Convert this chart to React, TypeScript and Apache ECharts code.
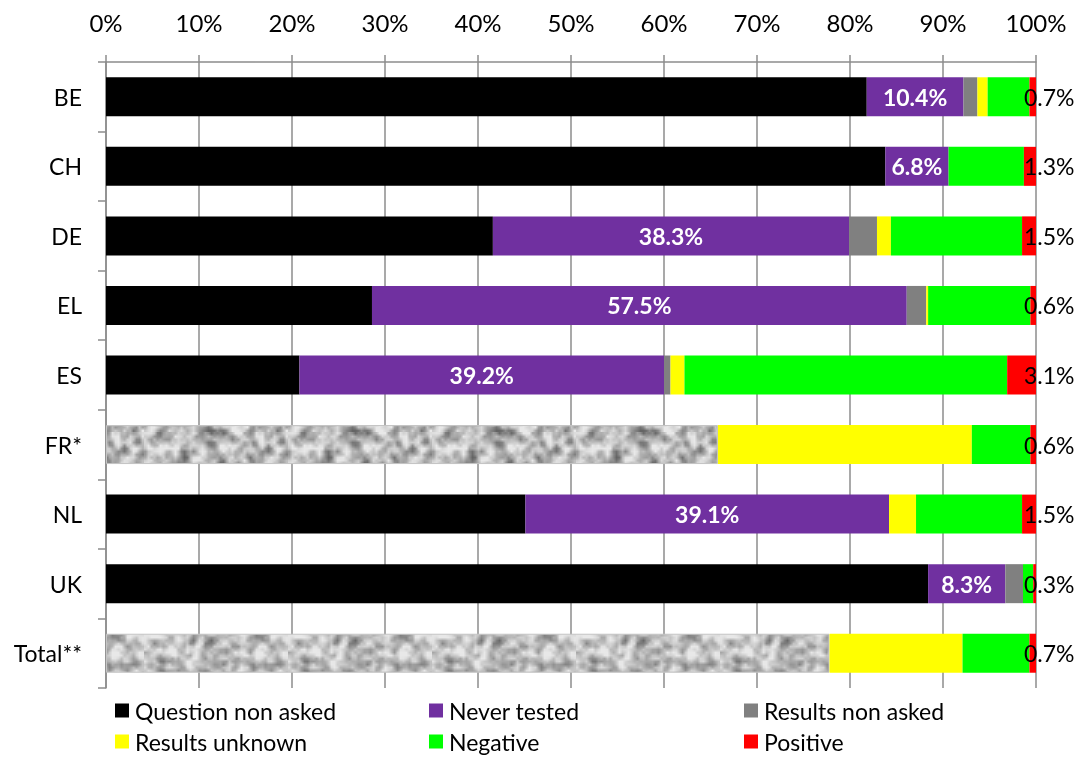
import React, { useEffect, useRef } from 'react';
import * as echarts from 'echarts';

const categories = ['BE', 'CH', 'DE', 'EL', 'ES', 'FR*', 'NL', 'UK', 'Total**'];
const questionNonAsked = [81.8, 83.8, 41.6, 28.6, 20.8, 65.8, 45.1, 88.4, 77.8];
const neverTested = [10.4, 6.8, 38.3, 57.5, 39.2, 0, 39.1, 8.3, 0];
const resultsNonAsked = [1.5, 0, 3.0, 2.1, 0.7, 0, 0, 1.9, 0];
const resultsUnknown = [1.1, 0, 1.5, 0.2, 1.5, 27.3, 2.9, 0, 14.3];
const negative = [4.5, 8.1, 14.1, 11.0, 34.7, 6.3, 11.4, 1.1, 7.2];
const positive = [0.7, 1.3, 1.5, 0.6, 3.1, 0.6, 1.5, 0.3, 0.7];
const texturedCategories = ['FR*', 'Total**'];
const seriesNames = ['Question non asked', 'Never tested', 'Results non asked', 'Results unknown', 'Negative', 'Positive'];
const seriesColors = ['#000000', '#7030A0', '#808080', '#FFFF00', '#00FF00', '#FF0000'];

const FONT = 'Lato, "Open Sans", sans-serif';

function makeTexture(): HTMLCanvasElement {
  const small = 48;
  const big = 144;
  let seed = 98765;
  const rnd = () => {
    seed = (seed * 1103515245 + 12345) & 0x7fffffff;
    return seed / 0x7fffffff;
  };
  let g = new Float32Array(small * small).map(() => rnd());
  const n = new Float32Array(small * small);
  for (let y = 0; y < small; y++) {
    for (let x = 0; x < small; x++) {
      let s = 0;
      let w = 0;
      for (let dy = -1; dy <= 1; dy++) {
        for (let dx = -1; dx <= 1; dx++) {
          const k = dx === 0 && dy === 0 ? 2 : 1;
          s += k * g[((y + dy + small) % small) * small + ((x + dx + small) % small)];
          w += k;
        }
      }
      n[y * small + x] = s / w;
    }
  }
  g = n;
  const sc = document.createElement('canvas');
  sc.width = small;
  sc.height = small;
  const sctx = sc.getContext('2d')!;
  const img = sctx.createImageData(small, small);
  for (let i = 0; i < small * small; i++) {
    const v = Math.max(80, Math.min(232, Math.round(185 + (g[i] - 0.5) * 320)));
    img.data[i * 4] = v;
    img.data[i * 4 + 1] = v;
    img.data[i * 4 + 2] = v;
    img.data[i * 4 + 3] = 255;
  }
  sctx.putImageData(img, 0, 0);
  const c = document.createElement('canvas');
  c.width = big;
  c.height = big;
  const ctx = c.getContext('2d')!;
  ctx.imageSmoothingEnabled = true;
  ctx.drawImage(sc, 0, 0, big, big);
  return c;
}

export default function App() {
  const ref = useRef<HTMLDivElement>(null);
  useEffect(() => {
    if (!ref.current) return;
    const chart = echarts.init(ref.current, undefined, { renderer: 'svg' });
    const tex = makeTexture();
    const pattern: any = { image: tex, repeat: 'repeat', imageWidth: 144, imageHeight: 144 };

    const seriesData = [questionNonAsked, neverTested, resultsNonAsked, resultsUnknown, negative, positive];
    const series: any[] = seriesData.map((arr, si) => {
      const data = arr.map((v, i) => {
        if (si === 0 && texturedCategories.includes(categories[i])) {
          return { value: v, itemStyle: { color: pattern, borderColor: '#c4c4c4', borderWidth: 1 } };
        }
        return v;
      });
      const s: any = {
        name: seriesNames[si],
        type: 'bar',
        stack: 'total',
        barWidth: 39,
        data,
        itemStyle: { color: seriesColors[si] },
        emphasis: { disabled: true },
      };
      if (si === 1) {
        s.label = {
          show: true,
          position: 'inside',
          color: '#ffffff',
          fontFamily: FONT,
          fontWeight: 'bold',
          fontSize: 23,
          formatter: (p: any) => (p.value > 0 ? p.value.toFixed(1) + '%' : ''),
        };
      }
      if (si === 5) {
        s.label = {
          show: true,
          position: 'right',
          distance: -12,
          color: '#000000',
          fontFamily: FONT,
          fontSize: 23,
          formatter: (p: any) => p.value.toFixed(1) + '%',
        };
      }
      return s;
    });

    const legendCols = [115, 429, 744];
    const legendRows = [699, 730];
    const legendOrder = [
      [0, 1, 2],
      [3, 4, 5],
    ];
    const legends: any[] = [];
    legendOrder.forEach((row, ri) => {
      row.forEach((si, ci) => {
        legends.push({
          left: legendCols[ci],
          top: legendRows[ri],
          itemWidth: 14,
          itemHeight: 14,
          icon: 'rect',
          selectedMode: false,
          padding: 0,
          data: [seriesNames[si]],
          textStyle: { fontFamily: FONT, fontSize: 23, color: '#000', lineHeight: 22, padding: [0, 0, 0, 1] },
        });
      });
    });

    chart.setOption({
      animation: false,
      textStyle: { fontFamily: FONT },
      grid: { left: 106, right: 42, top: 62, bottom: 69, containLabel: false },
      xAxis: {
        type: 'value',
        position: 'top',
        min: 0,
        max: 100,
        interval: 10,
        axisLine: { show: true, lineStyle: { color: '#8c8c8c', width: 1.5 } },
        axisTick: { show: true, inside: false, length: 7, lineStyle: { color: '#8c8c8c', width: 1.5 } },
        splitLine: { show: true, lineStyle: { color: '#8c8c8c', width: 1.5 } },
        axisLabel: { formatter: '{value}%', fontFamily: FONT, fontSize: 24, color: '#000', margin: 28 },
      },
      yAxis: {
        type: 'category',
        inverse: true,
        data: categories,
        axisLine: { show: true, lineStyle: { color: '#8c8c8c', width: 1.5 } },
        axisTick: { show: true, length: 8, lineStyle: { color: '#8c8c8c', width: 1.5 } },
        axisLabel: { fontFamily: FONT, fontSize: 23, color: '#000', margin: 24 },
      },
      legend: legends,
      series,
    });
    return () => chart.dispose();
  }, []);
  return <div ref={ref} style={{ position: 'fixed', left: 0, top: 0, width: 1078, height: 757 }} />;
}
